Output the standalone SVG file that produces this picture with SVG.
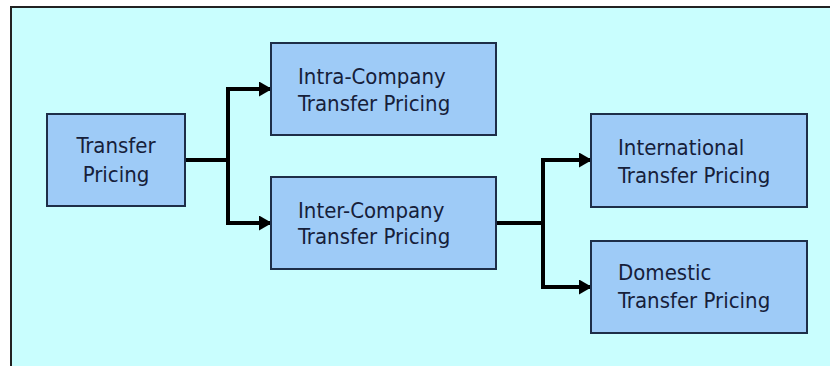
<svg xmlns="http://www.w3.org/2000/svg" width="830" height="366" viewBox="0 0 830 366">
<defs>
<style>
.node rect{fill:#9ECBF7;stroke:#1E2E48;stroke-width:2}
.node text{font-family:"DejaVu Sans Condensed","DejaVu Sans",sans-serif;font-size:22px;fill:#16203A}
.conn{fill:none;stroke:#000;stroke-width:4}
</style>
<marker id="arr" markerWidth="13" markerHeight="15" refX="12" refY="7.5" orient="auto" markerUnits="userSpaceOnUse" viewBox="0 0 13 15">
<path d="M0,0 L13,7.5 L0,15 Z" fill="#000"/>
</marker>
</defs>
<rect x="0" y="0" width="830" height="366" fill="#FFFFFF"/>
<rect x="11" y="7" width="830" height="370" fill="#C9FEFE" stroke="#222" stroke-width="2"/>
<g id="connectors">
<path class="conn" d="M185,160 H228 M228,87 V225"/>
<path class="conn" d="M226,89 H271" marker-end="url(#arr)"/>
<path class="conn" d="M226,223 H271" marker-end="url(#arr)"/>
<path class="conn" d="M496,223 H543 M543,158 V289"/>
<path class="conn" d="M541,160 H591" marker-end="url(#arr)"/>
<path class="conn" d="M541,287 H591" marker-end="url(#arr)"/>
</g>
<g id="transfer-pricing" class="node">
<rect x="47" y="114" width="138" height="92"/>
<text x="116" y="153" text-anchor="middle">Transfer</text>
<text x="116" y="182" text-anchor="middle">Pricing</text>
</g>
<g id="intra-company" class="node">
<rect x="271" y="43" width="225" height="92"/>
<text x="298" y="84">Intra-Company</text>
<text x="298" y="111">Transfer Pricing</text>
</g>
<g id="inter-company" class="node">
<rect x="271" y="177" width="225" height="92"/>
<text x="298" y="218">Inter-Company</text>
<text x="298" y="244">Transfer Pricing</text>
</g>
<g id="international" class="node">
<rect x="591" y="114" width="216" height="93"/>
<text x="618" y="155">International</text>
<text x="618" y="183">Transfer Pricing</text>
</g>
<g id="domestic" class="node">
<rect x="591" y="241" width="216" height="92"/>
<text x="618" y="280">Domestic</text>
<text x="618" y="308">Transfer Pricing</text>
</g>
</svg>
